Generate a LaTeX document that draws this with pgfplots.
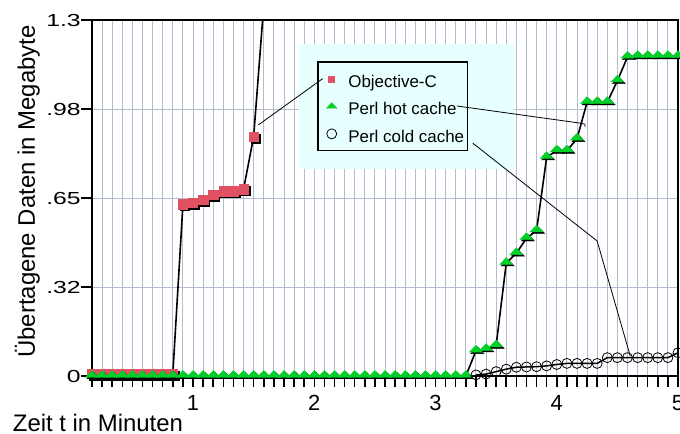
\documentclass[border=0pt]{standalone}
\usepackage{fontspec}
\setmainfont{Liberation Sans}
\usepackage{pgfplots}
\usepackage{pgfplotstable}
\pgfplotsset{compat=1.18}
\usetikzlibrary{calc}
\definecolor{gridc}{RGB}{178,188,208}
\definecolor{objc}{RGB}{224,82,98}
\definecolor{hotg}{RGB}{0,208,40}
\definecolor{panel}{RGB}{232,255,255}

\pgfplotstableread{
x y
0.1667 0.008
0.25 0.008
0.3333 0.008
0.4167 0.008
0.5 0.008
0.5833 0.008
0.6667 0.008
0.75 0.008
0.8333 0.008
0.9167 0.627
1.0 0.632
1.0833 0.644
1.1667 0.661
1.25 0.675
1.3333 0.675
1.4167 0.682
1.5 0.874
1.6 1.45
}\objcdata

\pgfplotstableread{
x y
0.1667 0
0.25 0
0.3333 0
0.4167 0
0.5 0
0.5833 0
0.6667 0
0.75 0
0.8333 0
0.9167 0
1.0 0
1.0833 0
1.1667 0
1.25 0
1.3333 0
1.4167 0
1.5 0
1.5833 0
1.6667 0
1.75 0
1.8333 0
1.9167 0
2.0 0
2.0833 0
2.1667 0
2.25 0
2.3333 0
2.4167 0
2.5 0
2.5833 0
2.6667 0
2.75 0
2.8333 0
2.9167 0
3.0 0
3.0833 0
3.1667 0
3.25 0
3.3333 0.092
3.4167 0.098
3.5 0.111
3.5833 0.412
3.6667 0.448
3.75 0.503
3.8333 0.531
3.9167 0.799
4.0 0.823
4.0833 0.823
4.1667 0.866
4.25 1.0
4.3333 1.0
4.4167 1.0
4.5 1.078
4.5833 1.165
4.6667 1.168
4.75 1.168
4.8333 1.168
4.9167 1.168
5.0 1.168
}\hotdata

\pgfplotstableread{
x y
3.3333 0.004
3.4167 0.007
3.5 0.016
3.5833 0.025
3.6667 0.032
3.75 0.033
3.8333 0.034
3.9167 0.037
4.0 0.042
4.0833 0.046
4.1667 0.046
4.25 0.046
4.3333 0.046
4.4167 0.067
4.5 0.067
4.5833 0.067
4.6667 0.067
4.75 0.067
4.8333 0.067
4.9167 0.067
5.0 0.085
}\colddata

\begin{document}
\begin{tikzpicture}
\begin{axis}[
  scale only axis, width=586bp, height=356bp,
  xmin=0.16667, xmax=5, ymin=0, ymax=1.3,
  xtick={1,2,3,4,5}, xticklabels={1,2,3,4,5},
  minor xtick={0.16667,0.25,...,5.01},
  ytick={0,0.325,0.65,0.975,1.3}, yticklabels={0,.32,.65,.98,1.3},
  tick align=outside, tick pos=left,
  major tick length=11bp, minor tick length=11bp,
  every tick/.style={black, line width=1.5bp},
  grid=both,
  major grid style={gridc, line width=0.9bp},
  minor grid style={gridc, line width=0.9bp},
  axis line style={black, line width=1.6bp},
  xticklabel style={font=\fontsize{22}{26}\selectfont, yshift=-5bp},
  yticklabel style={font=\fontsize{17.5}{20}\selectfont, xscale=1.42, inner sep=0pt, anchor=east},
  /pgf/number format/assume math mode=true,
  xlabel={Zeit t in Minuten},
  xlabel style={at={(axis description cs:-0.1353,-0.1545)}, anchor=base west, inner sep=0pt, font=\fontsize{24}{28}\selectfont},
  ylabel={Übertagene Daten in Megabyte},
  ylabel style={at={(axis description cs:-0.0973,0.518)}, anchor=base, inner sep=0pt, font=\fontsize{24}{28}\selectfont},
  legend image code/.code={\path (0bp,-6bp) (20bp,6bp); \draw[#1] plot coordinates {(10bp,0bp)};},
  legend style={at={(axis cs:2.026,1.149)}, anchor=north west, draw=black, line width=1.3bp, fill=panel,
    font=\fontsize{17}{20}\selectfont, inner xsep=3bp, inner ysep=7.35bp, row sep=8.5bp, column sep=6bp,
    nodes={inner sep=0pt, text height=18bp, text depth=1bp, anchor=west}},
  legend cell align=left,
]
\fill[panel] (axis cs:1.875,0.756) rectangle (axis cs:3.648,1.2126);
% Objective-C
\addplot[black, line width=1.6bp, forget plot] table {\objcdata};
\addplot[only marks, mark=square*, mark size=4.6bp, mark options={black, xshift=1.8bp, yshift=-1.8bp}, forget plot] table {\objcdata};
\addplot[only marks, mark=square*, mark size=4.6bp, mark options={draw=objc, fill=objc},
  legend image post style={mark size=3bp, mark options={draw=objc, fill=objc, line width=0.5bp}}] table {\objcdata};
\addlegendentry{Objective-C}
% Perl hot cache
\addplot[black, line width=1.6bp, forget plot] table {\hotdata};
\addplot[only marks, mark=triangle*, mark size=7.5bp, mark options={black, xshift=1.5bp, yshift=-0.5bp, yscale=0.6}, forget plot] table {\hotdata};
\addplot[only marks, mark=triangle*, mark size=7.5bp, mark options={draw=hotg, fill=hotg, yshift=1bp, yscale=0.6},
  legend image post style={mark size=6bp, mark options={draw=hotg, fill=hotg, yscale=0.6, line width=0.5bp}}] table {\hotdata};
\addlegendentry{Perl hot cache}
% Perl cold cache
\addplot[black, line width=1.5bp, forget plot] table {\colddata};
\addplot[only marks, mark=o, mark size=5bp, mark options={black, line width=0.8bp},
  legend image post style={mark size=5bp, mark options={black, line width=0.8bp}}] table {\colddata};
\addlegendentry{Perl cold cache}
\coordinate (l1a) at (axis cs:2.070,1.086);
\coordinate (l1b) at (axis cs:1.539,0.917);
\coordinate (l2a) at (axis cs:3.176,0.986);
\coordinate (l2b) at (axis cs:4.200,0.923);
\coordinate (l3a) at (axis cs:3.308,0.850);
\coordinate (l3b) at (axis cs:4.333,0.493);
\coordinate (l3c) at (axis cs:4.606,0.073);
\end{axis}
\draw[black, line width=0.8bp] (l1a) -- (l1b);
\draw[black, line width=0.8bp] (l2a) -- (l2b) -- ++(4bp,-1bp) -- ++(0,-3bp);
\draw[black, line width=0.8bp] (l3a) -- (l3b) -- (l3c);
\pgfresetboundingbox
\path ($(current axis.south west)+(-92bp,-58bp)$) rectangle ($(current axis.north east)+(2bp,20bp)$);
\end{tikzpicture}
\end{document}
